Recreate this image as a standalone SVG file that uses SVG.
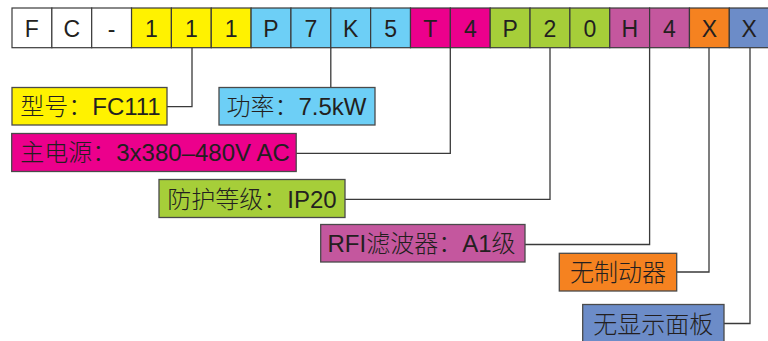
<svg xmlns="http://www.w3.org/2000/svg" width="768" height="341" viewBox="0 0 768 341">
<style>
.cell{stroke:#3a3a3a;stroke-width:1.2}
.box{stroke:#4a4a4a;stroke-width:1.3}
.ct{font-family:"Liberation Sans","Noto Sans CJK SC",sans-serif;font-size:23px;fill:#231f20;text-anchor:middle}
.lt{font-family:"Liberation Sans","Noto Sans CJK SC",sans-serif;font-size:24px;fill:#231f20;text-anchor:middle;font-weight:300}
.conn{fill:none;stroke:#3a3a3a;stroke-width:1.3}
.w{fill:#ffffff}.y{fill:#fff200}.lb{fill:#6dcff6}.m{fill:#ec008c}.g{fill:#a6ce39}.p{fill:#c4579e}.o{fill:#f58220}.b{fill:#6c8cc8}
</style>
<g id="code">
<rect class="cell w" x="12" y="8" width="39.85" height="39.7"/><text class="ct" x="31.9" y="36.5">F</text>
<rect class="cell w" x="51.85" y="8" width="39.85" height="39.7"/><text class="ct" x="71.8" y="36.5">C</text>
<rect class="cell w" x="91.7" y="8" width="39.85" height="39.7"/><text class="ct" x="111.6" y="36.5">-</text>
<rect class="cell y" x="131.55" y="8" width="39.85" height="39.7"/><text class="ct" x="151.5" y="36.5">1</text>
<rect class="cell y" x="171.4" y="8" width="39.85" height="39.7"/><text class="ct" x="191.3" y="36.5">1</text>
<rect class="cell y" x="211.25" y="8" width="39.85" height="39.7"/><text class="ct" x="231.2" y="36.5">1</text>
<rect class="cell lb" x="251.1" y="8" width="39.85" height="39.7"/><text class="ct" x="271" y="36.5">P</text>
<rect class="cell lb" x="290.95" y="8" width="39.85" height="39.7"/><text class="ct" x="310.9" y="36.5">7</text>
<rect class="cell lb" x="330.8" y="8" width="39.85" height="39.7"/><text class="ct" x="350.7" y="36.5">K</text>
<rect class="cell lb" x="370.65" y="8" width="39.85" height="39.7"/><text class="ct" x="390.6" y="36.5">5</text>
<rect class="cell m" x="410.5" y="8" width="39.85" height="39.7"/><text class="ct" x="430.4" y="36.5">T</text>
<rect class="cell m" x="450.35" y="8" width="39.85" height="39.7"/><text class="ct" x="470.3" y="36.5">4</text>
<rect class="cell g" x="490.2" y="8" width="39.85" height="39.7"/><text class="ct" x="510.1" y="36.5">P</text>
<rect class="cell g" x="530.05" y="8" width="39.85" height="39.7"/><text class="ct" x="550" y="36.5">2</text>
<rect class="cell g" x="569.9" y="8" width="39.85" height="39.7"/><text class="ct" x="589.8" y="36.5">0</text>
<rect class="cell p" x="609.75" y="8" width="39.85" height="39.7"/><text class="ct" x="629.7" y="36.5">H</text>
<rect class="cell p" x="649.6" y="8" width="39.85" height="39.7"/><text class="ct" x="669.5" y="36.5">4</text>
<rect class="cell o" x="689.45" y="8" width="39.85" height="39.7"/><text class="ct" x="709.4" y="36.5">X</text>
<rect class="cell b" x="729.3" y="8" width="39.85" height="39.7"/><text class="ct" x="749.2" y="36.5">X</text>
</g>
<g id="connectors">
<polyline class="conn" points="192,47.7 192,106.7 167,106.7"/>
<polyline class="conn" points="330.8,47.7 330.8,87.5"/>
<polyline class="conn" points="450.3,47.7 450.3,153.3 296,153.3"/>
<polyline class="conn" points="550,47.7 550,199.3 345,199.3"/>
<polyline class="conn" points="649.6,47.7 649.6,244.5 525,244.5"/>
<polyline class="conn" points="709,47.7 709,272 677,272"/>
<polyline class="conn" points="750,47.7 750,323.5 724,323.5"/>
</g>
<g id="model"><rect class="box y" x="12" y="87.5" width="155" height="37.5"/><text class="lt" x="90.5" y="115">型号：FC111</text></g>
<g id="power"><rect class="box lb" x="219" y="87.5" width="156" height="37.5"/><text class="lt" x="296.5" y="115">功率：7.5kW</text></g>
<g id="supply"><rect class="box m" x="11.7" y="133.5" width="284.5" height="38"/><text class="lt" x="155" y="161">主电源：3x380–480V AC</text></g>
<g id="ip"><rect class="box g" x="159" y="179.5" width="186" height="38"/><text class="lt" x="252" y="207.5">防护等级：IP20</text></g>
<g id="rfi"><rect class="box p" x="320.7" y="224.5" width="204.3" height="37.5"/><text class="lt" x="421.5" y="252">RFI滤波器：A1级</text></g>
<g id="brake"><rect class="box o" x="559.3" y="253.3" width="117.4" height="37.7"/><text class="lt" x="618" y="281">无制动器</text></g>
<g id="panel"><rect class="box b" x="582.7" y="304.5" width="141.3" height="38"/><text class="lt" x="653.3" y="332.5">无显示面板</text></g>
</svg>
